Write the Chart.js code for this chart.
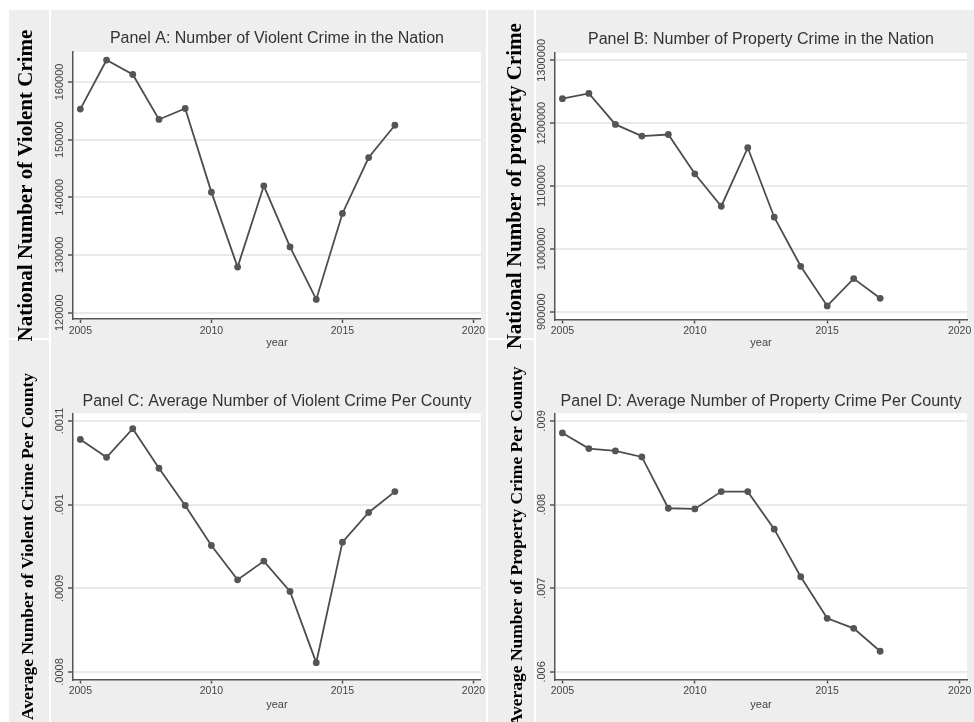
<!DOCTYPE html>
<html>
<head>
<meta charset="utf-8">
<script src="https://cdn.jsdelivr.net/npm/chart.js@4/dist/chart.umd.min.js"></script>
<style>
html,body{margin:0;padding:0;background:#fff;}
#wrap{position:relative;width:974px;height:722px;overflow:hidden;background:#fff;}
.bg{position:absolute;left:9px;top:10px;width:965px;height:712px;background:#eeeeee;}
.wl{position:absolute;background:#fff;}
.cv{position:absolute;}
</style>
</head>
<body>
<div id="wrap">
  <div class="bg"></div>
  <div class="wl" style="left:49px;top:10px;width:2px;height:712px"></div>
  <div class="wl" style="left:486px;top:10px;width:2px;height:712px"></div>
  <div class="wl" style="left:534px;top:10px;width:2px;height:712px"></div>
  <div class="wl" style="left:9px;top:338px;width:41px;height:2px"></div>
  <div class="wl" style="left:488px;top:338px;width:47px;height:2px"></div>
  <div class="cv" style="left:9px;top:10px"><canvas id="cA" width="478" height="340"></canvas></div>
  <div class="cv" style="left:489px;top:10px"><canvas id="cB" width="485" height="340"></canvas></div>
  <div class="cv" style="left:9px;top:350px"><canvas id="cC" width="478" height="372"></canvas></div>
  <div class="cv" style="left:489px;top:350px"><canvas id="cD" width="485" height="372"></canvas></div>
</div>
<script>
// ---- data ----
const years = [2005, 2006, 2007, 2008, 2009, 2010, 2011, 2012, 2013, 2014, 2015, 2016, 2017];
const violentNation = [155300, 163800, 161300, 153500, 155400, 140900, 127900, 142000, 131400, 122300, 137200, 146900, 152500];
const propertyNation = [1239000, 1247400, 1198000, 1179400, 1182000, 1119400, 1067800, 1160900, 1050300, 972200, 909100, 952600, 921200];
const violentPerCounty = [0.001078, 0.0010566, 0.0010908, 0.0010435, 0.000999, 0.0009512, 0.0009102, 0.0009325, 0.0008963, 0.0008111, 0.0009552, 0.0009906, 0.0010156];
const propertyPerCounty = [0.008857, 0.00867, 0.008642, 0.00857, 0.007956, 0.007948, 0.008155, 0.008155, 0.007706, 0.007137, 0.00664, 0.00652, 0.006246];
const xTicks = [2005, 2010, 2015, 2020];
const xTickLabels = ['2005', '2010', '2015', '2020'];
const yTicksA = [120000, 130000, 140000, 150000, 160000];
const yLabelsA = ['120000', '130000', '140000', '150000', '160000'];
const yTicksB = [900000, 1000000, 1100000, 1200000, 1300000];
const yLabelsB = ['900000', '1000000', '1100000', '1200000', '1300000'];
const yTicksC = [0.0008, 0.0009, 0.001, 0.0011];
const yLabelsC = ['.0008', '.0009', '.001', '.0011'];
const yTicksD = [0.006, 0.007, 0.008, 0.009];
const yLabelsD = ['.006', '.007', '.008', '.009'];

const SANS = '"Liberation Sans", Arial, sans-serif';
const SERIF = '"Liberation Serif", "Times New Roman", serif';

const plotBg = {
  id: 'plotBg',
  beforeDraw(chart) {
    const {ctx, chartArea: a} = chart;
    ctx.save();
    ctx.fillStyle = '#ffffff';
    ctx.fillRect(a.left, a.top, a.right - a.left, a.bottom - a.top);
    ctx.restore();
  }
};

const yLabelPlugin = {
  id: 'yLabelPlugin',
  afterDraw(chart, args, opts) {
    const {ctx, chartArea: a} = chart;
    const s = chart.scales.y;
    ctx.save();
    ctx.font = '11px ' + SANS;
    ctx.fillStyle = '#444';
    ctx.textAlign = 'center';
    ctx.textBaseline = 'middle';
    opts.values.forEach((v, i) => {
      const y = s.getPixelForValue(v);
      ctx.save();
      ctx.translate(a.left - 13, y);
      ctx.rotate(-Math.PI / 2);
      ctx.fillText(opts.labels[i], 0, 0);
      ctx.restore();
    });
    ctx.restore();
  }
};

function makeChart(id, p) {
  const H = p.H, W = p.W;
  const lh = 16 * 1.2;
  new Chart(document.getElementById(id), {
    type: 'line',
    data: {
      datasets: [{
        data: years.map((x, i) => ({x: x, y: p.values[i]})),
        borderColor: '#4d4d4d',
        borderWidth: 1.8,
        pointRadius: 3.4,
        pointBackgroundColor: '#555',
        pointBorderWidth: 0,
        tension: 0
      }]
    },
    options: {
      responsive: false,
      animation: false,
      devicePixelRatio: 1,
      layout: {autoPadding: false, padding: {left: 0, right: W - p.right, top: 0, bottom: 0}},
      plugins: {
        legend: {display: false},
        tooltip: {enabled: false},
        title: {
          display: true,
          text: p.title,
          fullSize: false,
          color: '#333',
          font: {family: SANS, size: 16, weight: 'normal'},
          padding: {top: p.titleY - lh / 2, bottom: p.top - p.titleY - lh / 2}
        },
        yLabelPlugin: {values: p.yTicks, labels: p.yLabels}
      },
      scales: {
        x: {
          type: 'linear',
          min: 2004.72,
          max: 2020.28,
          afterBuildTicks: s => { s.ticks = xTicks.map(v => ({value: v})); },
          afterFit: s => { s.height = H - p.bottom; },
          ticks: {
            font: {family: SANS, size: 10.5},
            color: '#444',
            padding: 1.7,
            maxRotation: 0,
            callback: (v) => xTickLabels[xTicks.indexOf(v)]
          },
          grid: {drawOnChartArea: false, tickColor: '#555', tickLength: 4, tickWidth: 1.5},
          border: {display: true, color: '#555', width: 1.5},
          title: {
            display: true,
            text: 'year',
            color: '#444',
            font: {family: SANS, size: 11},
            padding: {top: 0, bottom: p.yearPad}
          }
        },
        y: {
          type: 'linear',
          min: p.min,
          max: p.max,
          afterBuildTicks: s => { s.ticks = p.yTicks.map(v => ({value: v})); },
          afterFit: s => { s.width = p.left; },
          ticks: {display: false},
          grid: {color: '#e9e9e9', lineWidth: 2, tickColor: '#555', tickLength: 5, tickWidth: 1.5},
          border: {display: true, color: '#555', width: 1.5},
          title: {
            display: true,
            text: p.ytitle,
            color: '#000',
            font: {family: SERIF, size: p.ySize, weight: 'bold'},
            padding: {top: p.yTitleX - p.ySize * 0.6, bottom: 0}
          }
        }
      }
    },
    plugins: [plotBg, yLabelPlugin]
  });
}

makeChart('cA', {W: 478, H: 340, left: 64, right: 476, top: 42, bottom: 309, titleY: 29, yearPad: 0.4,
  title: 'Panel A: Number of Violent Crime in the Nation', ytitle: 'National Number of Violent Crime',
  ySize: 21, yTitleX: 18, values: violentNation, min: 118900, max: 165200, yTicks: yTicksA, yLabels: yLabelsA});
makeChart('cB', {W: 485, H: 340, left: 66, right: 478, top: 43, bottom: 309.5, titleY: 29.3, yearPad: 0.4,
  title: 'Panel B: Number of Property Crime in the Nation', ytitle: 'National Number of property Crime',
  ySize: 21, yTitleX: 27, values: propertyNation, min: 887500, max: 1311700, yTicks: yTicksB, yLabels: yLabelsB});
makeChart('cC', {W: 478, H: 372, left: 64, right: 476, top: 63.3, bottom: 329.5, titleY: 52, yearPad: 10.4,
  title: 'Panel C: Average Number of Violent Crime Per County', ytitle: 'Average Number of Violent Crime Per County',
  ySize: 17.5, yTitleX: 19, values: violentPerCounty, min: 0.000791, max: 0.0011092, yTicks: yTicksC, yLabels: yLabelsC});
makeChart('cD', {W: 485, H: 372, left: 66, right: 478, top: 63.3, bottom: 329.5, titleY: 52, yearPad: 10.4,
  title: 'Panel D: Average Number of Property Crime Per County', ytitle: 'Average Number of Property Crime Per County',
  ySize: 17.5, yTitleX: 28, values: propertyPerCounty, min: 0.0059085, max: 0.0090915, yTicks: yTicksD, yLabels: yLabelsD});
</script>
</body>
</html>
